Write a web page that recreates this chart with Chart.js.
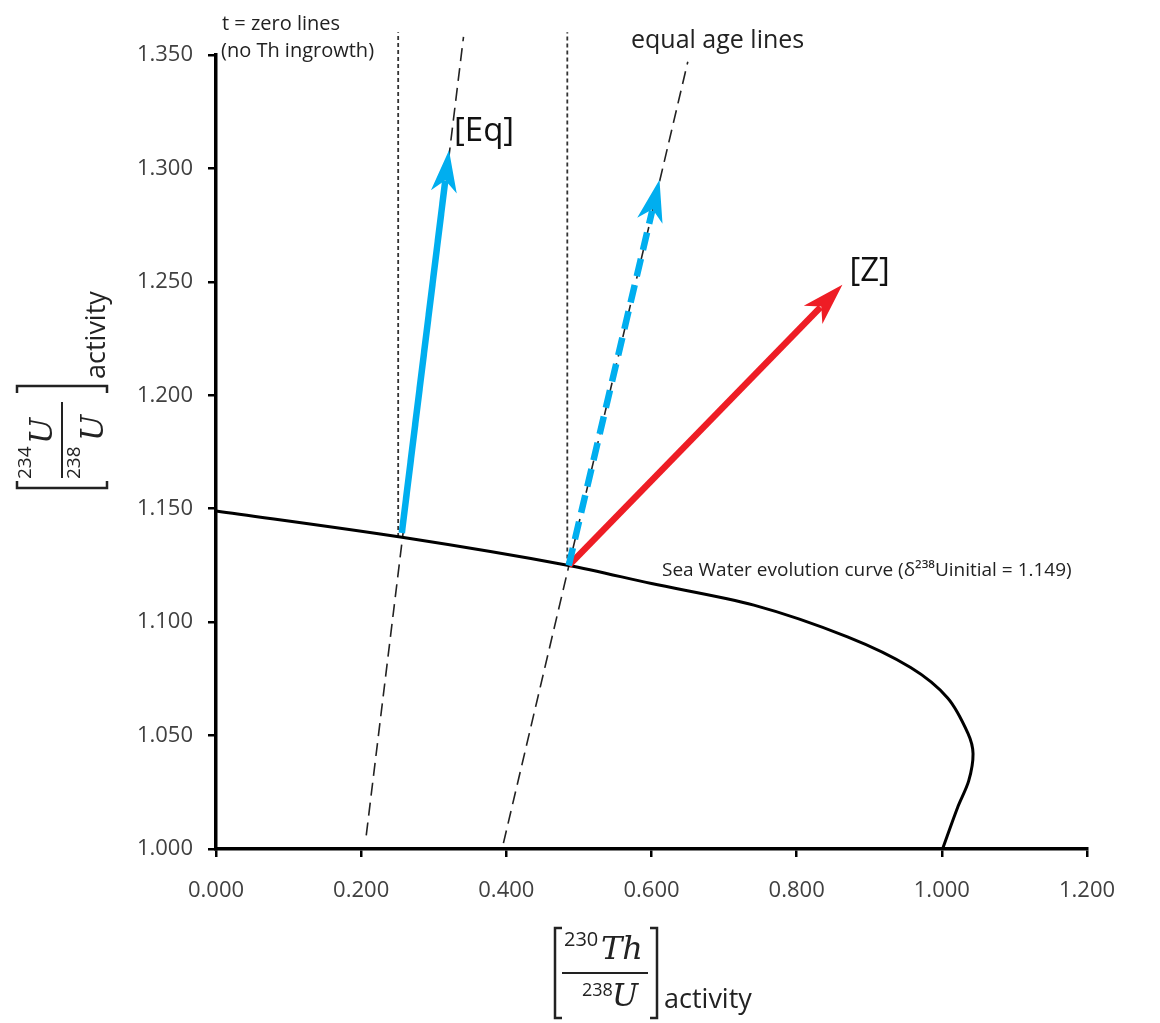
<!DOCTYPE html>
<html><head><meta charset="utf-8">
<script src="https://cdn.jsdelivr.net/npm/chart.js@4.4.1/dist/chart.umd.min.js"></script>
<style>html,body{margin:0;padding:0;background:#fff;}canvas{display:block;}</style>
</head><body>
<canvas id="c" width="1160" height="1023"></canvas>
<script>
// ---- tick values / labels ----
const xTickValues = [0.0, 0.2, 0.4, 0.6, 0.8, 1.0, 1.2];
const xTickLabels = ['0.000', '0.200', '0.400', '0.600', '0.800', '1.000', '1.200'];
const yTickValues = [1.00, 1.05, 1.10, 1.15, 1.20, 1.25, 1.30, 1.35];
const yTickLabels = ['1.000', '1.050', '1.100', '1.150', '1.200', '1.250', '1.300', '1.350'];

// ---- sea water evolution curve ----
const curveX = [0.000, 0.254, 0.486, 0.600, 0.741, 0.870, 0.957, 1.008, 1.036, 1.043, 1.037, 1.022, 1.001];
const curveY = [1.149, 1.1375, 1.125, 1.117, 1.1075, 1.0935, 1.080, 1.0666, 1.051, 1.042, 1.030, 1.0185, 1.000];

// ---- t = zero lines (dotted, vertical) ----
const zeroLineX = [0.251, 0.484];
const zeroLineBottomY = [1.1375, 1.125];
const zeroLineTopY = [1.360, 1.360];

// ---- equal age lines (dashed) ----
const ageLineStartX = [0.207, 0.396];
const ageLineStartY = [1.006, 1.0026];
const ageLineEndX = [0.341, 0.650];
const ageLineEndY = [1.358, 1.347];

// ---- arrows ----
const arrowLabels = ['[Eq]', '', '[Z]'];
const arrowStartX = [0.256, 0.486, 0.486];
const arrowStartY = [1.1393, 1.125, 1.125];
const arrowTipX = [0.321, 0.611, 0.863];
const arrowTipY = [1.308, 1.295, 1.2487];
const arrowColors = ['#00AEEF', '#00AEEF', '#EE1D25'];
const arrowDashed = [false, true, false];

const SHAFT_FRAC = 0.92;
const FONT = '"Open Sans", "Noto Sans", sans-serif';

const datasets = [];
for (let i = 0; i < zeroLineX.length; i++) {
  datasets.push({
    data: [{x: zeroLineX[i], y: zeroLineBottomY[i]}, {x: zeroLineX[i], y: zeroLineTopY[i]}],
    showLine: true, borderColor: '#333', borderWidth: 1.8, borderDash: [4, 3],
    pointRadius: 0, clip: false, order: 5
  });
}
for (let i = 0; i < ageLineStartX.length; i++) {
  datasets.push({
    data: [{x: ageLineStartX[i], y: ageLineStartY[i]}, {x: ageLineEndX[i], y: ageLineEndY[i]}],
    showLine: true, borderColor: '#222', borderWidth: 1.6, borderDash: [13, 7],
    pointRadius: 0, clip: false, order: 5
  });
}
datasets.push({
  data: curveX.map((x, i) => ({x: x, y: curveY[i]})),
  showLine: true, borderColor: '#000', borderWidth: 3, tension: 0.3,
  pointRadius: 0, clip: false, order: 4
});
for (let i = 0; i < arrowStartX.length; i++) {
  const ex = arrowStartX[i] + (arrowTipX[i] - arrowStartX[i]) * SHAFT_FRAC;
  const ey = arrowStartY[i] + (arrowTipY[i] - arrowStartY[i]) * SHAFT_FRAC;
  datasets.push({
    data: [{x: arrowStartX[i], y: arrowStartY[i]}, {x: ex, y: ey}],
    showLine: true, borderColor: arrowColors[i], borderWidth: 6.5,
    borderDash: arrowDashed[i] ? [18, 9] : [], borderCapStyle: 'butt',
    pointRadius: 0, clip: false, order: 1
  });
}

function drawStealth(ctx, sx, sy, tx, ty, color) {
  const dx = tx - sx, dy = ty - sy, len = Math.hypot(dx, dy);
  const ux = dx / len, uy = dy / len, nx = -uy, ny = ux;
  const L = 42, W = 26;
  ctx.beginPath();
  ctx.moveTo(tx, ty);
  ctx.lineTo(tx - ux * L + nx * W / 2, ty - uy * L + ny * W / 2);
  ctx.lineTo(tx - ux * L * 0.72, ty - uy * L * 0.72);
  ctx.lineTo(tx - ux * L - nx * W / 2, ty - uy * L - ny * W / 2);
  ctx.closePath();
  ctx.fillStyle = color;
  ctx.fill();
}

function drawFracTitle(ctx, ox, oy, rot, cfg) {
  ctx.save();
  ctx.translate(ox, oy);
  ctx.rotate(rot);
  ctx.strokeStyle = '#222';
  ctx.fillStyle = '#222';
  ctx.lineWidth = 2.5;
  ctx.beginPath();
  ctx.moveTo(9, -45); ctx.lineTo(2, -45); ctx.lineTo(2, 45); ctx.lineTo(9, 45);
  ctx.moveTo(97, -45); ctx.lineTo(104, -45); ctx.lineTo(104, 45); ctx.lineTo(97, 45);
  ctx.stroke();
  ctx.lineWidth = 2;
  ctx.beginPath();
  ctx.moveTo(cfg.lineFrom, 0); ctx.lineTo(cfg.lineTo, 0);
  ctx.stroke();
  ctx.textBaseline = 'alphabetic';
  ctx.textAlign = 'left';
  for (const p of cfg.parts) {
    ctx.font = p.font;
    ctx.fillText(p.text, p.u, p.v);
  }
  ctx.restore();
}

const overlay = {
  id: 'overlay',
  afterDatasetsDraw(chart) {
    const ctx = chart.ctx, xs = chart.scales.x, ys = chart.scales.y;
    ctx.save();
    for (let i = 0; i < arrowTipX.length; i++) {
      const sx = xs.getPixelForValue(arrowStartX[i]), sy = ys.getPixelForValue(arrowStartY[i]);
      const tx = xs.getPixelForValue(arrowTipX[i]), ty = ys.getPixelForValue(arrowTipY[i]);
      drawStealth(ctx, sx, sy, tx, ty, arrowColors[i]);
      if (arrowLabels[i]) {
        ctx.font = '33px ' + FONT;
        ctx.fillStyle = '#111';
        ctx.textAlign = 'left';
        ctx.textBaseline = 'alphabetic';
        if (i === 0) ctx.fillText(arrowLabels[i], tx + 5, ty - 9);
        else ctx.fillText(arrowLabels[i], tx + 7, ty - 4);
      }
    }
    // annotations
    ctx.fillStyle = '#222';
    ctx.textAlign = 'left';
    ctx.textBaseline = 'alphabetic';
    ctx.font = '20px ' + FONT;
    ctx.fillText('t = zero lines', 222, 30);
    ctx.fillText('(no Th ingrowth)', 221, 57);
    ctx.font = '25px ' + FONT;
    ctx.fillText('equal age lines', 631, 48);
    ctx.font = '19px ' + FONT;
    ctx.fillText('Sea Water evolution curve (\u03B4\u00B2\u00B3\u2078Uinitial = 1.149)', 662, 576);
    ctx.restore();
  },
  afterDraw(chart) {
    const ctx = chart.ctx;
    const serif = '"DejaVu Serif", "Liberation Serif", serif';
    // x-axis title
    drawFracTitle(ctx, 553, 973, 0, {
      lineFrom: 9, lineTo: 95,
      parts: [
        {text: '230', font: '20px ' + FONT, u: 11, v: -27},
        {text: 'Th', font: 'italic 32px ' + serif, u: 48, v: -14},
        {text: '238', font: '18px ' + FONT, u: 29, v: 23},
        {text: 'U', font: 'italic 31px ' + serif, u: 59, v: 33},
        {text: 'activity', font: '27px ' + FONT, u: 111, v: 35}
      ]
    });
    // y-axis title (rotated)
    drawFracTitle(ctx, 62, 490, -Math.PI / 2, {
      lineFrom: 12, lineTo: 88,
      parts: [
        {text: '234', font: '19px ' + FONT, u: 11, v: -31},
        {text: 'U', font: 'italic 31px ' + serif, u: 46, v: -10},
        {text: '238', font: '19px ' + FONT, u: 11, v: 18},
        {text: 'U', font: 'italic 31px ' + serif, u: 49, v: 41},
        {text: 'activity', font: '27px ' + FONT, u: 111, v: 43}
      ]
    });
  }
};

const axisCommon = {
  type: 'linear',
  border: {display: true, color: '#000', width: 3.5},
  grid: {drawOnChartArea: false, drawTicks: true, tickLength: 8, color: '#000', lineWidth: 2.5},
};

new Chart(document.getElementById('c'), {
  type: 'scatter',
  data: {datasets: datasets},
  options: {
    responsive: false,
    animation: false,
    devicePixelRatio: 1,
    layout: {padding: {top: 55, right: 73, left: 0, bottom: 0}},
    plugins: {legend: {display: false}, tooltip: {enabled: false}, title: {display: false}},
    scales: {
      x: Object.assign({}, axisCommon, {
        min: 0, max: 1.2,
        afterBuildTicks: s => { s.ticks = xTickValues.map(v => ({value: v})); },
        afterFit: s => { s.height = 174; },
        ticks: {
          callback: (v, i) => xTickLabels[i],
          font: {family: FONT, size: 22}, color: '#404040', padding: 21, maxRotation: 0, autoSkip: false
        }
      }),
      y: Object.assign({}, axisCommon, {
        min: 1.0, max: 1.35,
        afterBuildTicks: s => { s.ticks = yTickValues.map(v => ({value: v})); },
        afterFit: s => { s.width = 216; },
        ticks: {
          callback: (v, i) => yTickLabels[i],
          font: {family: FONT, size: 22}, color: '#404040', padding: 15, autoSkip: false
        }
      })
    }
  },
  plugins: [overlay]
});
</script>
</body></html>
